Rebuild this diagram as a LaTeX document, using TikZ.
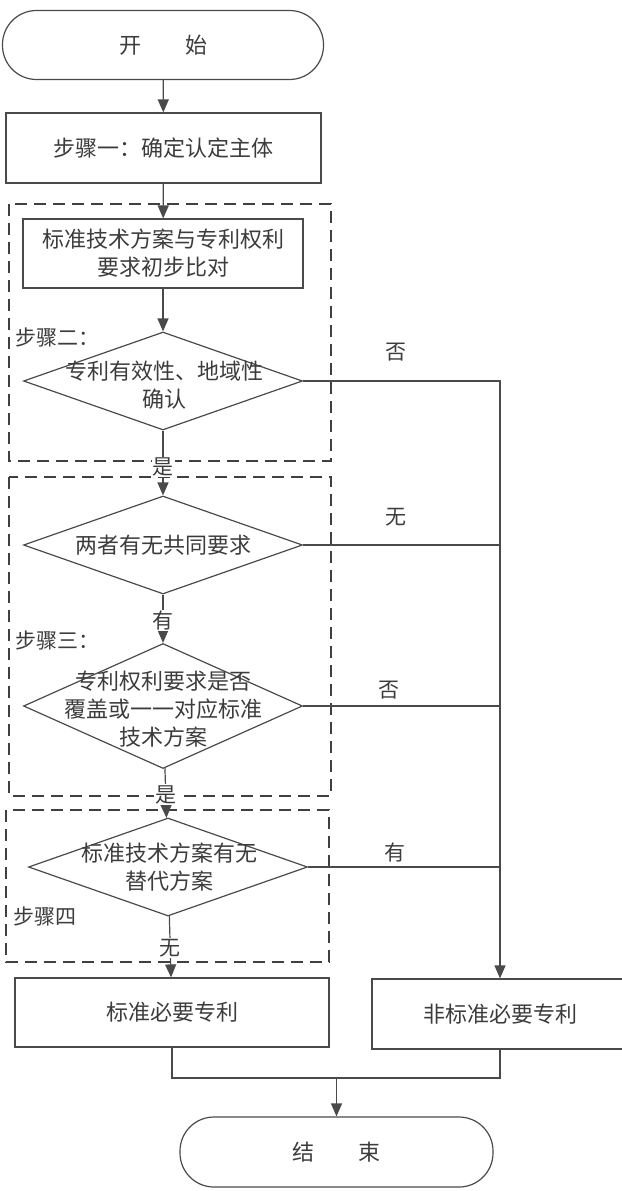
\documentclass[tikz,border=0pt]{standalone}
\usepackage{fontspec}
\setmainfont{Noto Sans CJK SC}
\usetikzlibrary{shapes.geometric,arrows.meta}
\definecolor{linegray}{HTML}{4A4A4A}
\definecolor{textgray}{HTML}{3C3C3C}
\begin{document}
\begin{tikzpicture}[x=1pt,y=-1pt,
    every node/.style={font=\fontsize{22}{28}\selectfont, text=textgray},
    terminal/.style={draw=linegray, line width=1.2pt, rounded corners=34pt, minimum height=69pt},
    procbox/.style={draw=linegray, line width=1.2pt, minimum height=69pt, align=center},
    decision/.style={diamond, draw=linegray, line width=1.2pt, inner sep=0pt,
        minimum width=279pt, minimum height=98pt},
    dtext/.style={align=center, inner sep=0pt},
    flow/.style={draw=linegray, line width=1.2pt},
    flowarrow/.style={flow, -{Triangle[length=13pt,width=11pt]}},
    stepframe/.style={draw=black!75, line width=2.7pt, dash pattern=on 12pt off 7pt},
    tag/.style={font=\fontsize{21}{26}\selectfont},
    cutlabel/.style={tag, fill=white, inner sep=1pt}]
    \useasboundingbox (0,0) rectangle (621,1191);

    %虚线步骤框
    \draw[stepframe] (9,204) rectangle (331,461);
    \draw[stepframe] (9,477) rectangle (331,796);
    \draw[stepframe] (6,810) rectangle (329,962);

    % 起止框与处理框
    \node[terminal, minimum width=321pt] (start) at (163,45) {开\quad\quad 始};
    \node[procbox, minimum width=315pt, minimum height=70pt] (s1) at (163.5,148) {步骤一：确定认定主体};
    \node[procbox, minimum width=280pt] (cmp) at (163,253.5) {标准技术方案与专利权利\\要求初步比对};

    % 判断框
    \node[decision] (valid) at (163,381) {};
    \node[dtext] (validt) at (164,385) {专利有效性、地域性\\确认};
    \node[decision] (common) at (163,545) {};
    \node[dtext] (commont) at (163,545) {两者有无共同要求};
    \node[decision, minimum height=125pt] (cover) at (163,706) {};
    \node[dtext] (covert) at (163,709) {专利权利要求是否\\覆盖或一一对应标准\\技术方案};
    \node[decision] (alt) at (168,867) {};
    \node[dtext] (altt) at (169,867) {标准技术方案有无\\替代方案};

    % 结果
    \node[procbox, minimum width=314pt] (sep) at (172,1012.5) {标准必要专利};
    \node[procbox, minimum width=256pt, minimum height=70pt] (nsep) at (500,1014) {非标准必要专利};
    \node[terminal, minimum width=313pt, minimum height=70pt] (end) at (336.5,1152) {结\quad\quad 束};

    % 步骤标签
    \node[tag, anchor=west] (t2) at (12,337) {步骤二：};
    \node[tag, anchor=west] (t3) at (12,640) {步骤三：};
    \node[tag, anchor=west] (t4) at (10,916) {步骤四};
    \node[tag] (n1) at (396,352) {否};
    \node[tag] (n2) at (396,517) {无};
    \node[tag] (n3) at (389,690) {否};
    \node[tag] (n4) at (395,852) {有};

    % 连线
    \draw[flowarrow] (start) -- (s1);
    \draw[flowarrow] (s1) -- (cmp);
    \draw[flowarrow] (cmp) -- (valid);
    \draw[flowarrow] (valid) -- (common) node[cutlabel, pos=0.56] (y1) {是};
    \draw[flowarrow] (common) -- (cover) node[cutlabel, pos=0.54] (y2) {有};
    \draw[flowarrow] (cover) -- (alt) node[cutlabel, pos=0.53] (y3) {是};
    \draw[flowarrow] (alt) -- (sep) node[cutlabel, pos=0.52] (y4) {无};

    \draw[flowarrow] (valid.east) -| (nsep.north);
    \draw[flow] (common.east) -- (common.east -| nsep.north);
    \draw[flow] (cover.east) -- (cover.east -| nsep.north);
    \draw[flow] (alt.east) -- (alt.east -| nsep.north);

    \coordinate (join) at (336.5,1078);
    \draw[flow] (sep.south) |- (join) -| (nsep.south);
    \draw[flowarrow] (join) -- (end);
\end{tikzpicture}
\end{document}
